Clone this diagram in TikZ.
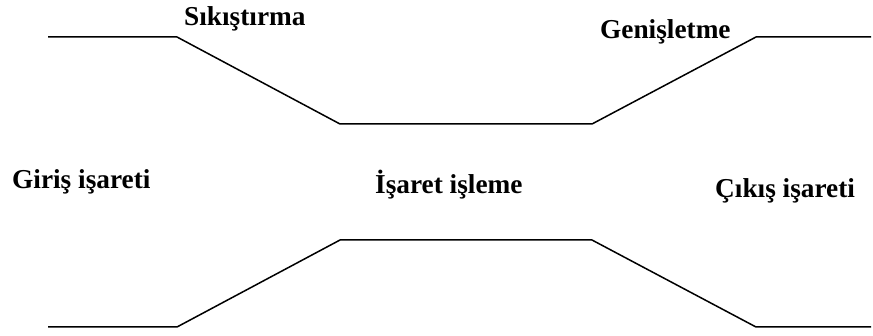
\documentclass[tikz,border=0pt]{standalone}
\usepackage{fontspec}
\setmainfont{Liberation Serif}
\begin{document}
\begin{tikzpicture}[x=1pt,y=-1pt,
  lbl/.style={font=\bfseries\fontsize{27.3}{31}\selectfont, inner sep=0pt, anchor=base west},
  edge/.style={line width=1.5pt, line join=miter}]
\useasboundingbox (0,0) rectangle (873,336);
% top (compression / expansion) profile
\coordinate (t0) at (48,37);
\coordinate (t1) at (177,37);
\coordinate (t2) at (340,124);
\coordinate (t3) at (592,124);
\coordinate (t4) at (756,37);
\coordinate (t5) at (871,37);
\draw[edge] (t0) -- (t1) -- (t2) -- (t3) -- (t4) -- (t5);
% bottom profile
\coordinate (b0) at (48,327);
\coordinate (b1) at (177,327);
\coordinate (b2) at (340,240);
\coordinate (b3) at (592,240);
\coordinate (b4) at (756,327);
\coordinate (b5) at (871,327);
\draw[edge] (b0) -- (b1) -- (b2) -- (b3) -- (b4) -- (b5);
% labels
\node[lbl] (sik) at (184,26) {Sıkıştırma};
\node[lbl] (gen) at (600,39) {Genişletme};
\node[lbl] (gir) at (12,189) {Giriş işareti};
\node[lbl] (isl) at (375,194) {İşaret işleme};
\node[lbl] (cik) at (715,198) {Çıkış işareti};
\end{tikzpicture}
\end{document}
